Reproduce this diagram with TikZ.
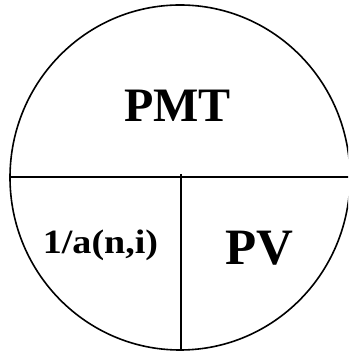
\documentclass[tikz,border=0pt]{standalone}
\usepackage{fontspec}
\setmainfont{Liberation Serif}
\begin{document}
\begin{tikzpicture}[x=1pt,y=1pt,
  rule/.style={line width=1.6pt,black},
  lbl/.style={inner sep=0pt,font=\bfseries}]
\useasboundingbox (0,0) rectangle (348,352);
\begin{scope}
\clip (0,0) rectangle (348,352);
\draw[rule] (180,174.5) ellipse [x radius=170, y radius=172.5];
\coordinate (hl) at (9,175);
\coordinate (hr) at (350,175);
\coordinate (vt) at (181,178);
\coordinate (vb) at (181,2);
\draw[rule] (hl) -- (hr);
\draw[rule] (vt) -- (vb);
\end{scope}
\node[lbl,font=\bfseries\fontsize{48}{50}\selectfont] (pmt) at (177.5,246.5) {PMT};
\node[lbl,font=\bfseries\fontsize{34}{36}\selectfont,xscale=1.12] (a) at (100.5,107) {1/a(n,i)};
\node[lbl,font=\bfseries\fontsize{51}{53}\selectfont] (pv) at (259,104) {PV};
\end{tikzpicture}
\end{document}
